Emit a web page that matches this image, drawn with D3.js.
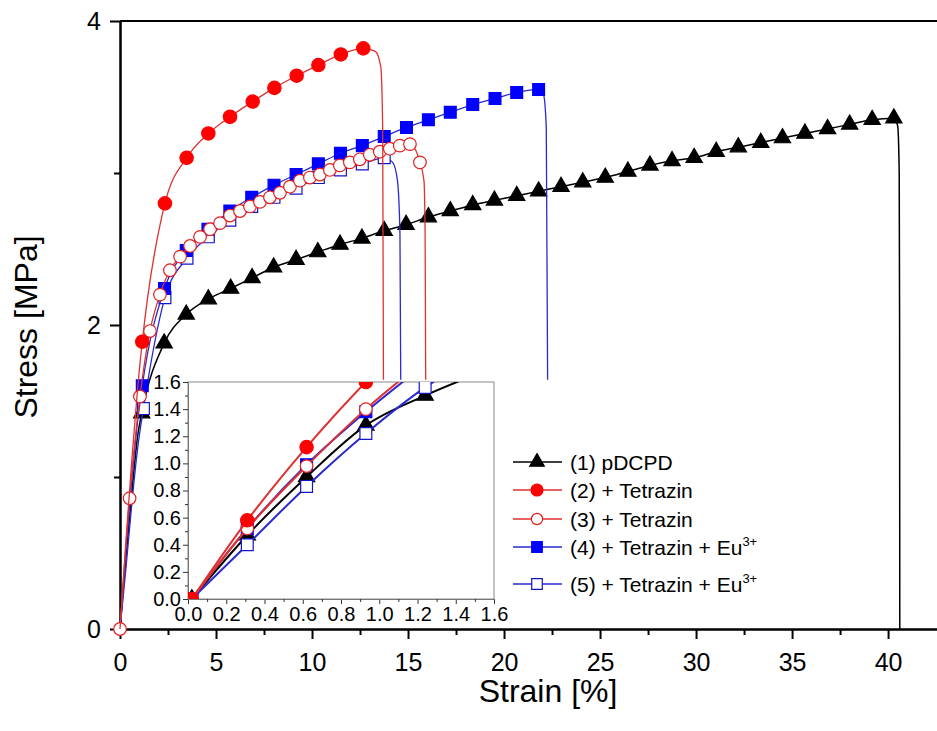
<!DOCTYPE html>
<html>
<head>
<meta charset="utf-8">
<script src="https://cdn.jsdelivr.net/npm/d3@7/dist/d3.min.js"></script>
<style>
  body { margin: 0; background: #fff; }
  text { font-family: "Liberation Sans", Arial, sans-serif; fill: #000; }
</style>
</head>
<body>
<div id="chart"></div>
<script>
// main curves: [strain %, stress MPa, marker?]
var pdcpd = [[0,0,0],[0.31,0.47,0],[0.62,0.90,0],[0.93,1.28,0],[1.13,1.42,1],[2.3,1.88,1],[3.45,2.07,1],
  [4.6,2.17,1],[5.76,2.24,1],[6.88,2.31,1],[8.0,2.38,1],[9.17,2.43,1],[10.3,2.48,1],[11.46,2.53,1],
  [12.6,2.57,1],[13.76,2.62,1],[14.9,2.66,1],[16.06,2.71,1],[17.2,2.75,1],[18.37,2.79,1],[19.5,2.82,1],
  [20.66,2.85,1],[21.8,2.88,1],[22.97,2.91,1],[24.1,2.94,1],[25.27,2.97,1],[26.45,3.01,1],[27.6,3.05,1],
  [28.75,3.08,1],[29.9,3.10,1],[31.05,3.14,1],[32.2,3.17,1],[33.37,3.20,1],[34.5,3.23,1],[35.67,3.26,1],
  [36.85,3.29,1],[38.0,3.32,1],[39.17,3.35,1],[40.3,3.36,1],[40.5,3.31,0],[40.58,3.0,0],[40.6,2.0,0],[40.61,0,0]];
var tetrazinA = [[0,0,0],[0.31,0.58,0],[0.62,1.12,0],[0.93,1.60,0],[1.16,1.89,1],[2.34,2.80,1],[3.47,3.10,1],
  [4.6,3.26,1],[5.73,3.37,1],[6.91,3.47,1],[8.04,3.56,1],[9.2,3.64,1],[10.33,3.71,1],[11.5,3.78,1],
  [12.67,3.82,1],[13.3,3.80,0],[13.58,3.70,0],[13.68,3.3,0],[13.72,1.64,0]];
var tetrazinB = [[0,0,1],[0.5,0.86,1],[1.04,1.53,1],[1.56,1.96,1],[2.08,2.20,1],[2.6,2.36,1],[3.13,2.45,1],
  [3.65,2.52,1],[4.17,2.58,1],[4.69,2.63,1],[5.21,2.67,1],[5.73,2.72,1],[6.25,2.75,1],[6.77,2.78,1],
  [7.29,2.81,1],[7.81,2.84,1],[8.33,2.87,1],[8.85,2.91,1],[9.37,2.95,1],[9.89,2.97,1],[10.41,2.99,1],
  [10.93,3.02,1],[11.45,3.05,1],[11.97,3.07,1],[12.49,3.09,1],[13.01,3.12,1],[13.53,3.14,1],[14.05,3.16,1],
  [14.57,3.18,1],[15.1,3.19,1],[15.62,3.07,1],[15.83,2.95,0],[15.89,2.6,0],[15.92,1.64,0]];
var euA = [[0,0,0],[0.31,0.52,0],[0.62,0.99,0],[0.93,1.38,0],[1.16,1.60,1],[2.32,2.24,1],[3.45,2.49,1],
  [4.58,2.63,1],[5.72,2.75,1],[6.86,2.84,1],[8.02,2.92,1],[9.17,2.99,1],[10.33,3.06,1],[11.48,3.13,1],
  [12.62,3.18,1],[13.76,3.24,1],[14.92,3.30,1],[16.06,3.35,1],[17.2,3.40,1],[18.37,3.45,1],[19.53,3.49,1],
  [20.66,3.53,1],[21.8,3.55,1],[22.05,3.52,0],[22.2,3.3,0],[22.27,1.64,0]];
var euB = [[0,0,0],[0.31,0.40,0],[0.62,0.83,0],[0.93,1.2,0],[1.22,1.45,1],[2.34,2.18,1],[3.49,2.44,1],
  [4.6,2.58,1],[5.72,2.69,1],[6.86,2.78,1],[8.02,2.84,1],[9.17,2.90,1],[10.33,2.97,1],[11.48,3.02,1],
  [12.62,3.06,1],[13.76,3.10,1],[14.2,3.07,0],[14.45,2.95,0],[14.58,2.6,0],[14.62,1.64,0]];

// inset (zoom of the first 1.6 %)
var insetBlack = [[0.02,0],[0.31,0.47],[0.62,0.90],[0.93,1.28],[1.24,1.50],[1.55,1.68]];
var insetRedA  = [[0.02,0],[0.31,0.58],[0.62,1.12],[0.93,1.60],[1.24,2.02]];
var insetRedB  = [[0.02,0],[0.31,0.52],[0.62,0.98],[0.93,1.40],[1.24,1.76]];
var insetBlueA = [[0.02,0],[0.31,0.52],[0.62,0.99],[0.93,1.38],[1.24,1.73]];
var insetBlueB = [[0.02,0],[0.31,0.40],[0.62,0.83],[0.93,1.22],[1.24,1.56],[1.55,1.82]];

var xTicks = [0, 5, 10, 15, 20, 25, 30, 35, 40];
var yTicks = [0, 2, 4];
var insetTicks = [0, 0.2, 0.4, 0.6, 0.8, 1.0, 1.2, 1.4, 1.6];
var legendLabels = ["(1) pDCPD", "(2) + Tetrazin", "(3) + Tetrazin", "(4) + Tetrazin + Eu", "(5) + Tetrazin + Eu"];

var width = 937, height = 731;
var svg = d3.select("#chart").append("svg")
    .attr("width", width)
    .attr("height", height);

var x = d3.scaleLinear().domain([0, 42.6]).range([120, 938]);
var y = d3.scaleLinear().domain([0, 4]).range([629, 21]);

// style per series: line colour, marker shape, fill, stroke, size
var series = [
  {data: pdcpd, inset: insetBlack, line: "#000", shape: d3.symbolTriangle, fill: "#000", stroke: "#000", size: 115, lw: 1.5},
  {data: euB, inset: insetBlueB, line: "#2a2ad0", shape: d3.symbolSquare, fill: "#fff", stroke: "#1515c8", size: 140, lw: 1.3},
  {data: euA, inset: insetBlueA, line: "#2a2ad0", shape: d3.symbolSquare, fill: "#0000ff", stroke: "#0000ff", size: 140, lw: 1.3},
  {data: tetrazinB, inset: insetRedB, line: "#e03030", shape: d3.symbolCircle, fill: "#fff", stroke: "#e41e1e", size: 125, lw: 1.3},
  {data: tetrazinA, inset: insetRedA, line: "#e03030", shape: d3.symbolCircle, fill: "#ff0000", stroke: "#ff0000", size: 140, lw: 1.3}
];
var legendOrder = [0, 4, 3, 2, 1];

// axes
svg.append("g")
    .attr("transform", "translate(0,629)")
    .call(d3.axisBottom(x).tickValues(xTicks).tickSize(10).tickSizeOuter(0).tickPadding(14).tickFormat(d3.format("d")));
svg.append("g")
    .attr("transform", "translate(0,629)")
    .call(d3.axisBottom(x).tickValues(d3.range(2.5, 42.5, 5)).tickSize(6).tickSizeOuter(0).tickFormat(""));
svg.append("g")
    .attr("transform", "translate(120,0)")
    .call(d3.axisLeft(y).tickValues(yTicks).tickSize(10).tickSizeOuter(0).tickPadding(9).tickFormat(d3.format("d")));
svg.append("g")
    .attr("transform", "translate(120,0)")
    .call(d3.axisLeft(y).tickValues([1, 3]).tickSize(6).tickSizeOuter(0).tickFormat(""));
svg.selectAll(".domain, .tick line").attr("stroke", "#000").attr("stroke-width", 2);
svg.selectAll(".tick text").attr("font-size", 25);

svg.append("line")
    .attr("x1", 120).attr("x2", 937)
    .attr("y1", 21).attr("y2", 21)
    .attr("stroke", "#000").attr("stroke-width", 2);

svg.append("text")
    .attr("x", 548).attr("y", 702)
    .attr("text-anchor", "middle")
    .attr("font-size", 32)
    .text("Strain [%]");
svg.append("text")
    .attr("transform", "translate(37,327) rotate(-90)")
    .attr("text-anchor", "middle")
    .attr("font-size", 32)
    .text("Stress [MPa]");

// main curves
var line = d3.line()
    .x(function(d) { return x(d[0]); })
    .y(function(d) { return y(d[1]); })
    .curve(d3.curveMonotoneX);

var plot = svg.append("g");
series.forEach(function(s) {
  plot.append("path")
      .datum(s.data)
      .attr("d", line)
      .attr("fill", "none")
      .attr("stroke", s.line)
      .attr("stroke-width", s.lw);
  plot.selectAll(null)
      .data(s.data.filter(function(d) { return d[2]; }))
      .enter().append("path")
      .attr("transform", function(d) { return "translate(" + x(d[0]) + "," + y(d[1]) + ")"; })
      .attr("d", d3.symbol().type(s.shape).size(s.size))
      .attr("fill", s.fill)
      .attr("stroke", s.stroke)
      .attr("stroke-width", 1.2);
});

// inset
var xi = d3.scaleLinear().domain([0, 1.6]).range([188, 494]);
var yi = d3.scaleLinear().domain([0, 1.6]).range([599, 382]);

var inset = svg.append("g");
inset.append("rect")
    .attr("x", 188).attr("y", 382)
    .attr("width", 306).attr("height", 217)
    .attr("fill", "#fff")
    .attr("stroke", "#8a8a8a").attr("stroke-width", 1);

inset.append("clipPath").attr("id", "insetClip")
  .append("rect")
    .attr("x", 188).attr("y", 382)
    .attr("width", 306).attr("height", 217);

inset.append("g")
    .attr("transform", "translate(0,599)")
    .call(d3.axisBottom(xi).tickValues(insetTicks).tickSize(5).tickSizeOuter(0).tickPadding(3).tickFormat(d3.format(".1f")));
inset.append("g")
    .attr("transform", "translate(0,599)")
    .call(d3.axisBottom(xi).tickValues(d3.range(0.1, 1.6, 0.2)).tickSize(3).tickSizeOuter(0).tickFormat(""));
inset.append("g")
    .attr("transform", "translate(188,0)")
    .call(d3.axisLeft(yi).tickValues(insetTicks).tickSize(5).tickSizeOuter(0).tickPadding(2).tickFormat(d3.format(".1f")));
inset.append("g")
    .attr("transform", "translate(188,0)")
    .call(d3.axisLeft(yi).tickValues(d3.range(0.1, 1.6, 0.2)).tickSize(3).tickSizeOuter(0).tickFormat(""));
inset.selectAll(".domain").attr("stroke", "#777").attr("stroke-width", 1);
inset.selectAll(".tick line").attr("stroke", "#333").attr("stroke-width", 1);
inset.selectAll(".tick text").attr("font-size", 20);

var lineI = d3.line()
    .x(function(d) { return xi(d[0]); })
    .y(function(d) { return yi(d[1]); })
    .curve(d3.curveMonotoneX);

var insetPlot = inset.append("g").attr("clip-path", "url(#insetClip)");
series.forEach(function(s) {
  insetPlot.append("path")
      .datum(s.inset)
      .attr("d", lineI)
      .attr("fill", "none")
      .attr("stroke", s.line)
      .attr("stroke-width", 2);
  insetPlot.selectAll(null)
      .data(s.inset)
      .enter().append("path")
      .attr("transform", function(d) { return "translate(" + xi(d[0]) + "," + yi(d[1]) + ")"; })
      .attr("d", d3.symbol().type(s.shape).size(s.size))
      .attr("fill", s.fill)
      .attr("stroke", s.stroke)
      .attr("stroke-width", 1.2);
});

// legend
var rowY = [462, 490, 519, 547, 584];
var legend = svg.append("g");
legendOrder.forEach(function(si, i) {
  var s = series[si];
  var g = legend.append("g").attr("transform", "translate(0," + rowY[i] + ")");
  g.append("line")
      .attr("x1", 513).attr("x2", 562)
      .attr("stroke", s.line).attr("stroke-width", 1.4);
  g.append("path")
      .attr("transform", "translate(537,0)")
      .attr("d", d3.symbol().type(s.shape).size(s.size * 0.8))
      .attr("fill", s.fill)
      .attr("stroke", s.stroke)
      .attr("stroke-width", 1.2);
  var t = g.append("text")
      .attr("x", 570).attr("y", 8)
      .attr("font-size", 21)
      .text(legendLabels[i]);
  if (i >= 3) {
    t.append("tspan")
        .attr("dy", -9)
        .attr("font-size", 13)
        .text("3+");
  }
});
</script>
</body>
</html>
